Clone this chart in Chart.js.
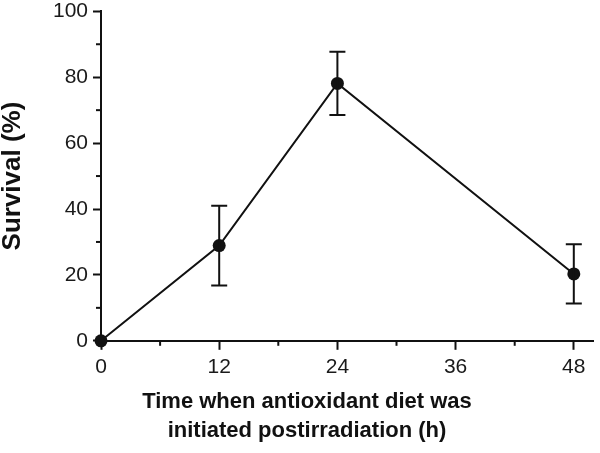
<!DOCTYPE html>
<html>
<head>
<meta charset="utf-8">
<script src="https://cdn.jsdelivr.net/npm/chart.js@4"></script>
<style>
  html, body { margin: 0; padding: 0; background: #fff; }
  #wrap { width: 600px; height: 453px; }
</style>
</head>
<body>
<div id="wrap"><canvas id="grafico"></canvas></div>
<script>
// datos
const horas = [0, 12, 24, 36, 48];
const horasMedidas = [0, 12, 24, 48];
const supervivencia = [0, 28.9, 78.1, 20.3];
const errores = [0, 12.1, 9.6, 9.0];
const ticksX = [0, 6, 12, 18, 24, 30, 36, 42, 48];
const ticksY = [0, 10, 20, 30, 40, 50, 60, 70, 80, 90, 100];
const etiquetasY = [0, 20, 40, 60, 80, 100];

const negro = '#111';

// barras de error y marcas menores
const extras = {
  id: 'extras',
  afterLayout(chart) {
    // el titulo de abajo va un poco a la derecha
    if (chart.titleBlock) chart.titleBlock.left = 16;
  },
  afterDatasetsDraw(chart) {
    const ctx = chart.ctx;
    const x = chart.scales.x, y = chart.scales.y;
    ctx.save();
    ctx.strokeStyle = negro;
    ctx.lineWidth = 2;
    horasMedidas.forEach((h, i) => {
      if (!errores[i]) return;
      const px = x.getPixelForValue(h);
      const top = y.getPixelForValue(supervivencia[i] + errores[i]);
      const bot = y.getPixelForValue(supervivencia[i] - errores[i]);
      ctx.beginPath();
      ctx.moveTo(px, top); ctx.lineTo(px, bot);
      ctx.moveTo(px - 8, top); ctx.lineTo(px + 8, top);
      ctx.moveTo(px - 8, bot); ctx.lineTo(px + 8, bot);
      ctx.stroke();
    });
    // marcas menores
    ticksY.forEach(v => {
      if (etiquetasY.includes(v)) return;
      const py = y.getPixelForValue(v);
      ctx.beginPath();
      ctx.moveTo(y.right - 5, py); ctx.lineTo(y.right, py);
      ctx.stroke();
    });
    ticksX.forEach(v => {
      if (horas.includes(v)) return;
      const px = x.getPixelForValue(v);
      ctx.beginPath();
      ctx.moveTo(px, x.top); ctx.lineTo(px, x.top + 5);
      ctx.stroke();
    });
    ctx.restore();
  }
};

new Chart(document.getElementById('grafico').getContext('2d'), {
  type: 'line',
  data: {
    datasets: [{
      data: horasMedidas.map((h, i) => ({x: h, y: supervivencia[i]})),
      borderColor: negro,
      borderWidth: 2,
      backgroundColor: negro,
      pointRadius: 6.5,
      pointBackgroundColor: negro,
      pointBorderWidth: 0,
      tension: 0,
      clip: false
    }]
  },
  options: {
    responsive: true,
    maintainAspectRatio: false,
    animation: false,
    layout: { padding: { top: 7, right: 2, left: 0 } },
    plugins: {
      legend: { display: false },
      tooltip: { enabled: false },
      title: {
        display: true,
        position: 'bottom',
        text: ['Time when antioxidant diet was', 'initiated postirradiation (h)'],
        color: negro,
        font: { family: 'Liberation Sans', size: 22, weight: 'bold', lineHeight: 1.3 },
        padding: { top: 4, bottom: 8 }
      }
    },
    scales: {
      x: {
        type: 'linear',
        min: 0,
        max: 50,
        afterBuildTicks: s => { s.ticks = ticksX.map(v => ({value: v})); },
        afterFit: s => { s.height = 43; },
        ticks: {
          color: '#1a1a1a',
          padding: 5,
          font: { family: 'Liberation Sans', size: 21 },
          callback: v => horas.includes(v) ? String(v) : ''
        },
        grid: {
          drawOnChartArea: false,
          tickLength: 9,
          tickWidth: 2,
          tickColor: c => horas.includes(c.tick.value) ? negro : 'rgba(0,0,0,0)'
        },
        border: { display: true, color: negro, width: 2 }
      },
      y: {
        min: 0,
        max: 100,
        afterBuildTicks: s => { s.ticks = ticksY.map(v => ({value: v})); },
        afterFit: s => { s.width = 101; },
        ticks: {
          color: '#1a1a1a',
          padding: 5,
          font: { family: 'Liberation Sans', size: 21, lineHeight: 0.6 },
          callback: v => etiquetasY.includes(v) ? String(v) : ''
        },
        grid: {
          drawOnChartArea: false,
          tickLength: 8,
          tickWidth: 2,
          tickColor: c => etiquetasY.includes(c.tick.value) ? negro : 'rgba(0,0,0,0)'
        },
        border: { display: true, color: negro, width: 2 },
        title: {
          display: true,
          text: 'Survival (%)',
          color: negro,
          font: { family: 'Liberation Sans', size: 26, weight: 'bold', lineHeight: 1.2 },
          padding: { top: -3, bottom: 0 }
        }
      }
    }
  },
  plugins: [extras]
});
</script>
</body>
</html>
